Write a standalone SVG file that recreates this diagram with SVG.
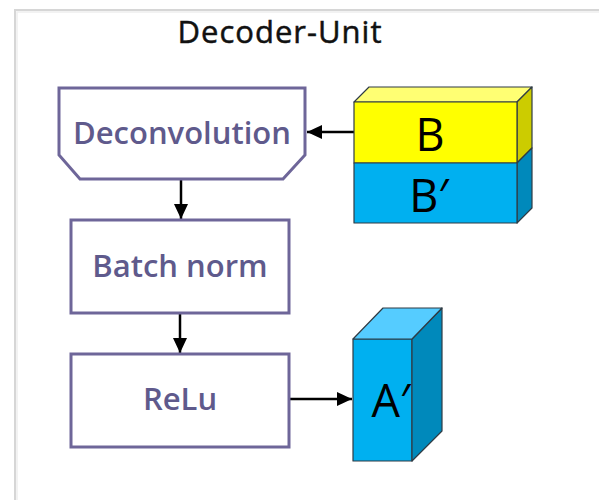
<svg xmlns="http://www.w3.org/2000/svg" width="599" height="500" viewBox="0 0 599 500">
<style>
.box{fill:#fff;stroke:#6e6699;stroke-width:3}
.lbl{font-family:"Open Sans","Noto Sans",sans-serif;fill:#5f5a8c;text-anchor:middle;font-weight:600;font-size:31px}
.big{font-family:"Open Sans","Noto Sans",sans-serif;fill:#000;text-anchor:middle;font-size:45px}
.edge{stroke:#000;stroke-width:2.5;fill:none}
.face{stroke:#2f3b44;stroke-width:1.2;stroke-linejoin:round}
</style>
<defs>
<marker id="arr" markerUnits="userSpaceOnUse" markerWidth="16" markerHeight="16" viewBox="0 0 16 16" refX="15" refY="8" orient="auto">
<path d="M0,1 L15,8 L0,15 Z" fill="#000"/>
</marker>
</defs>
<rect width="599" height="500" fill="#fff"/>
<rect x="15" y="10" width="620" height="520" fill="none" stroke="#d6d6d6" stroke-width="2"/>
<rect x="17" y="12" width="620" height="520" fill="none" stroke="#eeeeee" stroke-width="1.5"/>
<text x="280" y="43" font-family="'Open Sans','Noto Sans',sans-serif" font-size="31" letter-spacing="1" fill="#111" stroke="#111" stroke-width="0.5" text-anchor="middle">Decoder-Unit</text>

<g id="connectors">
<line class="edge" x1="181" y1="179" x2="181" y2="219" marker-end="url(#arr)"/>
<line class="edge" x1="180" y1="313" x2="180" y2="353" marker-end="url(#arr)"/>
<line class="edge" x1="354" y1="132" x2="307" y2="132" marker-end="url(#arr)"/>
<line class="edge" x1="289" y1="399" x2="352" y2="399" marker-end="url(#arr)"/>
</g>

<g id="deconvolution">
<path class="box" d="M59,88 H305 V155 L283,179 H80 L59,155 Z"/>
<text class="lbl" x="182" y="144">Deconvolution</text>
</g>

<g id="batchnorm">
<rect class="box" x="71" y="220" width="218" height="93"/>
<text class="lbl" x="180" y="277">Batch norm</text>
</g>

<g id="relu">
<rect class="box" x="71" y="354" width="218" height="93"/>
<text class="lbl" x="180" y="410">ReLu</text>
</g>

<g id="block-B">
<path class="face" fill="#ffff73" d="M354,102 L369,87 H532 L517,102 Z"/>
<path class="face" fill="#cccc00" d="M517,102 L532,87 V148 L517,163 Z"/>
<rect class="face" fill="#ffff00" x="354" y="102" width="163" height="61"/>
<path class="face" fill="#0089bb" d="M517,163 L532,148 V208 L517,223 Z"/>
<rect class="face" fill="#00b0f0" x="354" y="163" width="163" height="60"/>
<text class="big" x="430" y="151">B</text>
<text class="big" x="429" y="212">B′</text>
</g>

<g id="block-A">
<rect class="face" fill="#00b0f0" x="353" y="339" width="59" height="122"/>
<text class="big" x="391" y="417">A′</text>
<path class="face" fill="#0089bb" d="M412,339 L442,308 V431 L412,461 Z"/>
<path class="face" fill="#55ccff" d="M353,339 L383,308 H442 L412,339 Z"/>
</g>
</svg>
